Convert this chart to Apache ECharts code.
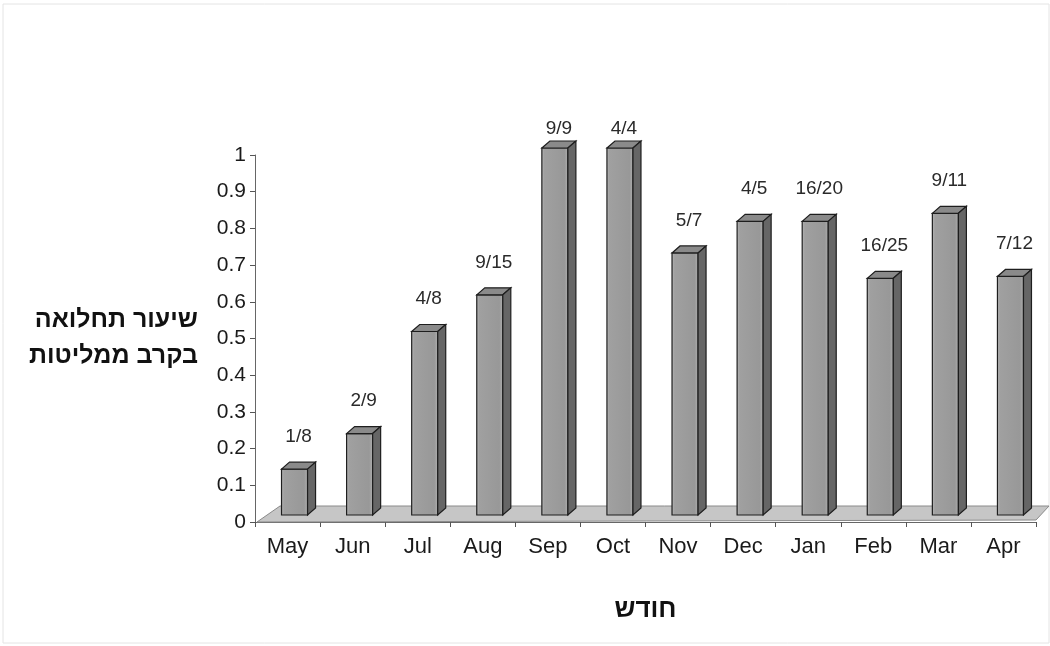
<!DOCTYPE html>
<html>
<head>
<meta charset="utf-8">
<script src="https://cdn.jsdelivr.net/npm/echarts@6/dist/echarts.min.js"></script>
<style>
html,body{margin:0;padding:0;background:#fff;}
#chart{width:1050px;height:646px;}
</style>
</head>
<body>
<div id="chart"></div>
<script>
const categories = ['May','Jun','Jul','Aug','Sep','Oct','Nov','Dec','Jan','Feb','Mar','Apr'];
const rates = [0.125, 0.222, 0.5, 0.6, 1, 1, 0.714, 0.8, 0.8, 0.645, 0.822, 0.65];
const fractionLabels = ['1/8','2/9','4/8','9/15','9/9','4/4','5/7','4/5','16/20','16/25','9/11','7/12'];
const yAxisTitle = 'שיעור תחלואה\nבקרב ממליטות';
const xAxisTitle = 'חודש';

const FONT = 'Arial, "Liberation Sans", sans-serif';

function renderBar(params, api) {
  const i = api.value(0), v = api.value(1);
  const base = api.coord([i, 0]);
  const top = api.coord([i, v]);
  const band = api.size([1, 0])[0];
  const w = band * 0.4;
  const dx = 8, dy = -7;
  const x0 = base[0] + 7 - w / 2;
  const yb = base[1] - 7;
  const yt = top[1] - 7;
  const ceil = api.coord([0, 1])[1] - 17;
  const labelY = Math.max(yt + dy - 16, ceil);
  const stroke = '#1e1e1e';
  return {
    type: 'group',
    children: [
      { type: 'rect', shape: { x: x0, y: yt, width: w, height: yb - yt },
        style: { fill: new echarts.graphic.LinearGradient(0, 0, 1, 0, [
          { offset: 0, color: '#b8b8b8' }, { offset: 0.12, color: '#a0a0a0' },
          { offset: 0.85, color: '#989898' }, { offset: 1, color: '#b2b2b2' }]),
          stroke: stroke, lineWidth: 1.2 } },
      { type: 'polygon', shape: { points: [[x0, yt], [x0 + w, yt], [x0 + w + dx, yt + dy], [x0 + dx, yt + dy]] },
        style: { fill: '#8a8a8a', stroke: stroke, lineWidth: 1.2 } },
      { type: 'polygon', shape: { points: [[x0 + w, yt], [x0 + w + dx, yt + dy], [x0 + w + dx, yb + dy], [x0 + w, yb]] },
        style: { fill: '#666666', stroke: stroke, lineWidth: 1.2 } },
      { type: 'text', x: x0 + w / 2 + 4, y: labelY,
        style: { text: fractionLabels[params.dataIndex], fill: '#2a2a2a', font: '19px ' + FONT,
          textAlign: 'center', textVerticalAlign: 'bottom' } }
    ]
  };
}

function renderFloor(params, api) {
  const band = api.size([1, 0])[0];
  const first = api.coord([0, 0]);
  const last = api.coord([categories.length - 1, 0]);
  const L = first[0] - band / 2, R = last[0] + band / 2, y0 = first[1];
  return {
    type: 'polygon',
    shape: { points: [[L + 2, y0], [R, y0 - 2], [R + 13, y0 - 16], [L + 25, y0 - 16]] },
    style: { fill: '#c6c6c6', stroke: '#8a8a8a', lineWidth: 1 }
  };
}

const chart = echarts.init(document.getElementById('chart'));
chart.setOption({
  backgroundColor: '#ffffff',
  animation: false,
  grid: { left: 255, right: 14, top: 155, bottom: 124 },
  graphic: [{ type: 'rect', shape: { x: 3, y: 4, width: 1046, height: 639 },
    style: { fill: 'none', stroke: '#e4e4e4', lineWidth: 1 }, silent: true }],
  xAxis: {
    type: 'category',
    data: categories,
    name: xAxisTitle,
    nameLocation: 'middle',
    nameGap: 75,
    nameTextStyle: { fontFamily: FONT, fontSize: 26, fontWeight: 'bold', color: '#111' },
    axisLine: { show: true, lineStyle: { color: '#666', width: 1 } },
    axisTick: { show: true, length: 5, lineStyle: { color: '#555' } },
    axisLabel: { fontFamily: FONT, fontSize: 22, color: '#1a1a1a', margin: 14 },
    splitLine: { show: false }
  },
  yAxis: {
    type: 'value',
    min: 0, max: 1, interval: 0.1,
    name: yAxisTitle,
    nameLocation: 'middle',
    nameRotate: 0,
    nameGap: 57,
    nameTextStyle: { fontFamily: FONT, fontSize: 25, fontWeight: 'bold', color: '#111', align: 'right', lineHeight: 36 },
    axisLine: { show: true, lineStyle: { color: '#666', width: 1 } },
    axisTick: { show: true, length: 5, lineStyle: { color: '#555' } },
    axisLabel: { fontFamily: FONT, fontSize: 21, color: '#1a1a1a', margin: 9 },
    splitLine: { show: false }
  },
  series: [
    { type: 'custom', z: 1, clip: false, renderItem: renderFloor, data: [[0, 0]], silent: true },
    { type: 'custom', z: 2, clip: false, renderItem: renderBar,
      data: rates.map((v, i) => [i, v]), silent: true }
  ]
});
</script>
</body>
</html>
